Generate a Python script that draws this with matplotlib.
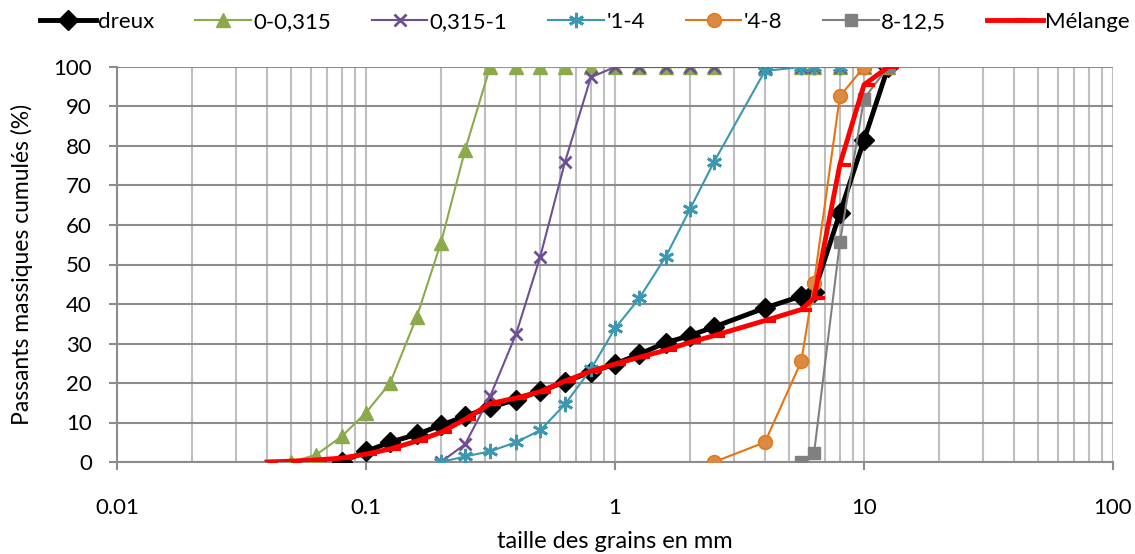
import numpy as np
import matplotlib
matplotlib.use('Agg')
import matplotlib.pyplot as plt
from matplotlib.path import Path
from matplotlib.ticker import FixedLocator, LogLocator, NullFormatter

plt.rcParams['font.family'] = ['Lato', 'DejaVu Sans']

# sieve sizes (mm) and cumulative passing (%)
sizes_dreux = [0.08, 0.1, 0.125, 0.16, 0.2, 0.25, 0.315, 0.4, 0.5, 0.63, 0.8, 1, 1.25,
               1.6, 2, 2.5, 4, 5.6, 6.3, 8, 10, 12.5]
dreux = [0, 2.7, 5, 7, 9.3, 11.6, 13.8, 15.8, 17.9, 20.3, 22.8, 24.8, 27.3,
         30.2, 32, 34.2, 39, 42, 43, 63, 81.5, 100]

sizes_a = [0.05, 0.063, 0.08, 0.1, 0.125, 0.16, 0.2, 0.25, 0.315, 0.4, 0.5, 0.63, 0.8,
           1, 1.25, 1.6, 2, 2.5, 4, 5.6, 6.3, 8, 10, 12.5]
frac_0_0315 = [0, 1.8, 6.5, 12.5, 20, 36.8, 55.5, 79, 100, 100, 100, 100, 100,
               100, 100, 100, 100, 100, 100, 100, 100, 100, 100, 100]

sizes_b = [0.2, 0.25, 0.315, 0.4, 0.5, 0.63, 0.8, 1, 1.25, 1.6, 2, 2.5, 4, 5.6, 6.3,
           8, 10, 12.5]
frac_0315_1 = [0, 4.5, 16.6, 32.3, 51.8, 76, 97.4, 100, 100, 100, 100, 100, 100, 100, 100,
               100, 100, 100]
frac_1_4 = [0, 1.4, 2.7, 5, 8, 14.6, 23.5, 33.8, 41.4, 52, 64, 76, 99, 100, 100,
            100, 100, 100]

sizes_c = [2.5, 4, 5.6, 6.3, 8, 10, 12.5]
frac_4_8 = [0, 5, 25.5, 45.4, 92.6, 100, 100]

sizes_d = [5.6, 6.3, 8, 10, 12.5]
frac_8_125 = [0, 2.2, 55.6, 92, 100]

sizes_mix = [0.04, 0.05, 0.063, 0.08, 0.1, 0.125, 0.16, 0.2, 0.25, 0.315, 0.4, 0.5, 0.63,
             0.8, 1, 1.25, 1.6, 2, 2.5, 4, 5.6, 6.3, 8, 10, 12.5]
melange = [0, 0.2, 0.5, 1, 2, 3.3, 5.3, 7.5, 10.8, 14.8, 16.2, 17.8, 20.5,
           23, 24.8, 26.5, 28.3, 30.3, 32, 35.8, 38.6, 41.5, 75.3, 95.5, 100]

xticks = [0.01, 0.1, 1, 10, 100]
xtick_labels = ['0.01', '0.1', '1', '10', '100']

W, H = 1135, 554
fig = plt.figure(figsize=(W / 100, H / 100), dpi=100)
ax = fig.add_axes([117 / W, 1 - 462 / H, (1113 - 117) / W, (462 - 67) / H])

# dash marker sticking out to the right, like the Excel one
dash = Path([[0, 0], [1, 0]], [Path.MOVETO, Path.LINETO])

ax.plot(sizes_dreux, dreux, color='black', lw=3.5, marker='D', ms=10, label='dreux', zorder=3)
ax.plot(sizes_a, frac_0_0315, color='#8aaa4b', lw=1.5, marker='^', ms=10, label='0-0,315', zorder=3)
ax.plot(sizes_b, frac_0315_1, color='#6e4f93', lw=1.5, marker='x', ms=9, mew=2, label='0,315-1', zorder=3)
ax.plot(sizes_b, frac_1_4, color='#3c97b0', lw=1.5, marker=(6, 2, 0), ms=11, mew=2, label="'1-4", zorder=3)
ax.plot(sizes_c, frac_4_8, color='#e8740f', lw=1.5, marker='o', ms=10, mfc='#da8a45',
        mec='#e8740f', label="'4-8", zorder=3)
ax.plot(sizes_d, frac_8_125, color='#808080', lw=1.5, marker='s', ms=8, label='8-12,5', zorder=3)
ax.plot(sizes_mix, melange, color='#ff0000', lw=3.5, marker=dash, ms=16, mew=3,
        label='Mélange', zorder=4)

ax.set_xscale('log')
ax.set_xlim(0.01, 100)
ax.set_ylim(0, 100)
ax.xaxis.set_major_locator(FixedLocator(xticks))
ax.set_xticklabels(xtick_labels)
ax.xaxis.set_minor_locator(LogLocator(base=10, subs=np.arange(2, 10)))
ax.xaxis.set_minor_formatter(NullFormatter())
ax.set_yticks(np.arange(0, 101, 10))

ax.grid(axis='x', which='both', color='#bfbfbf', lw=1.5, zorder=0)
ax.grid(axis='y', which='major', color='#8c8c8c', lw=1.5, zorder=0)
ax.set_axisbelow(True)

for s in ['top', 'right']:
    ax.spines[s].set_visible(False)
for s in ['left', 'bottom']:
    ax.spines[s].set_color('#8c8c8c')
    ax.spines[s].set_linewidth(1.5)

ax.tick_params(axis='y', which='major', length=6, width=1.5, color='#8c8c8c',
               pad=12, labelsize=16)
ax.tick_params(axis='x', which='major', length=6, width=1.5, color='#8c8c8c',
               pad=20, labelsize=16)
ax.tick_params(axis='x', which='minor', length=0)

ax.set_xlabel('taille des grains en mm', fontsize=17, va='center')
ax.xaxis.set_label_coords(0.5, (462 - 541) / 395)
ax.set_ylabel('Passants massiques cumulés (%)', fontsize=16.5, va='center')
ax.yaxis.set_label_coords((22 - 117) / 996, 0.5)

fig.legend(loc='center left', bbox_to_anchor=(40 / W, 1 - 22 / H), ncol=7, frameon=False,
           fontsize=16, handlelength=2.5, handletextpad=0.1, columnspacing=1.85,
           borderaxespad=0, borderpad=0)

fig.savefig('out.png', dpi=100)
